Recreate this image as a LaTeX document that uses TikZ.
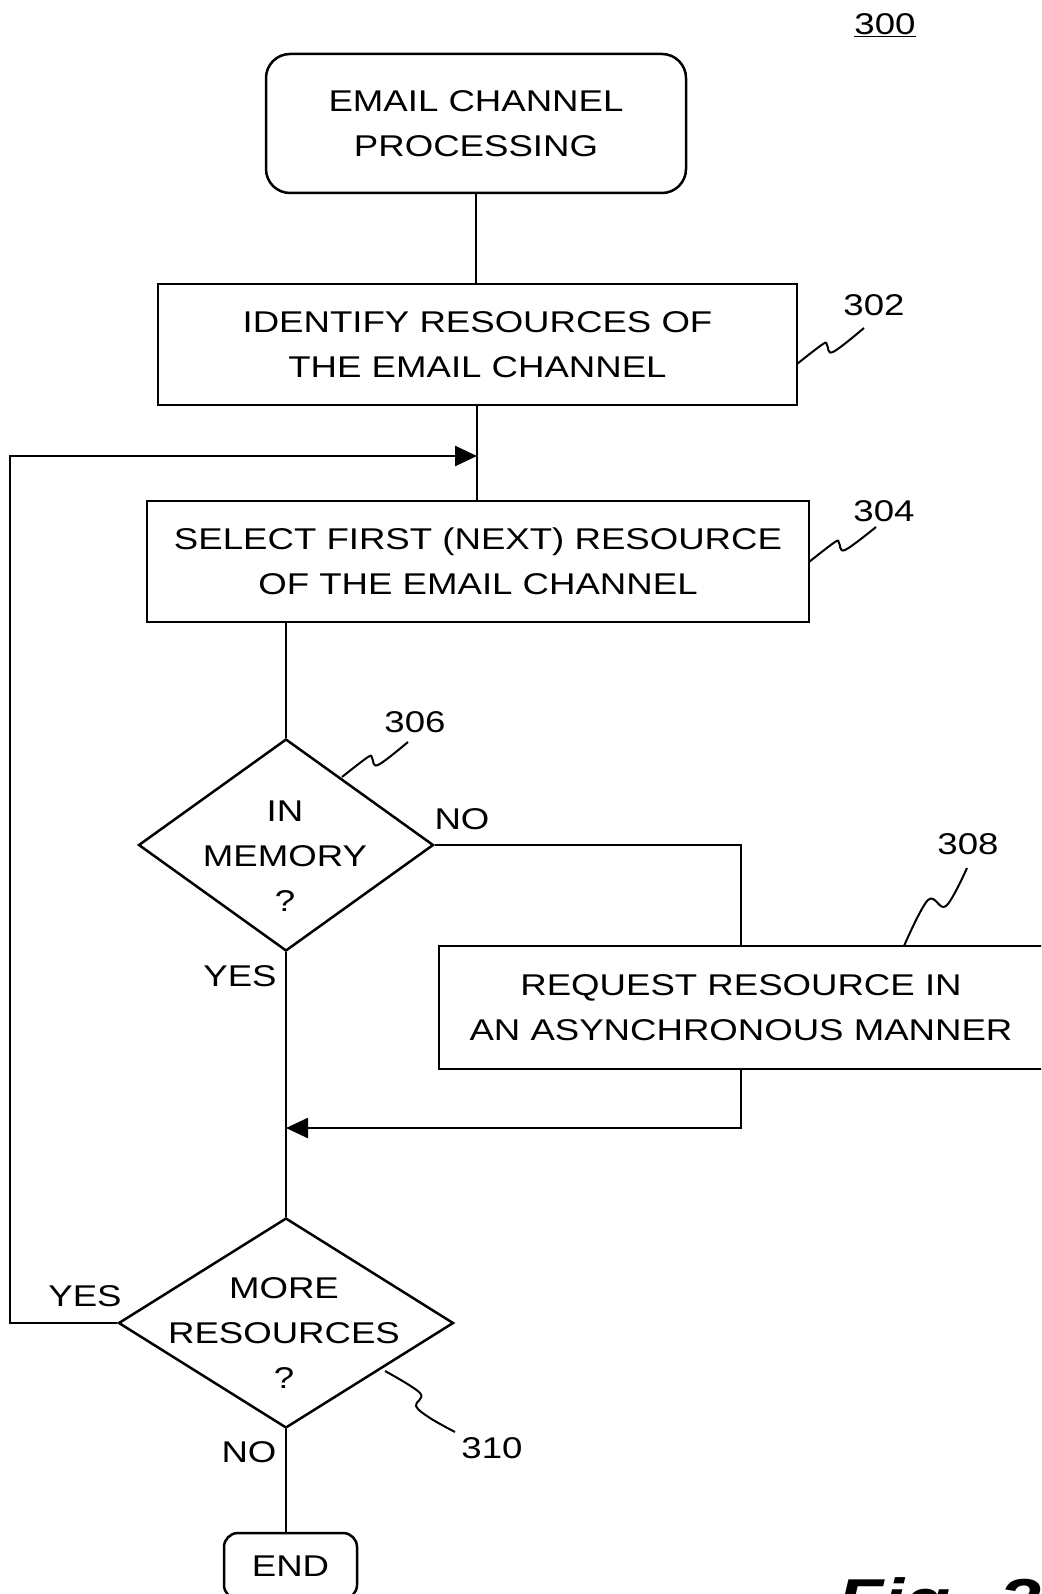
\documentclass[tikz,border=0pt]{standalone}
\usepackage{fontspec}
\setmainfont[FakeStretch=1.22]{Liberation Sans}
\usetikzlibrary{arrows.meta,shapes.geometric}
\begin{document}
\begin{tikzpicture}[x=1pt,y=-1pt,line width=2.5pt,
  every node/.style={font=\fontsize{30}{45}\selectfont,inner sep=0pt},
  procbox/.style={draw,rectangle,align=center},
  termbox/.style={draw,rectangle,rounded corners=24pt,align=center},
  decbox/.style={draw,diamond},
  dectext/.style={align=center},
  lbl/.style={},
  arr/.style={-{Triangle[length=22pt,width=20pt]}},
  squig/.style={line width=2pt}]
\useasboundingbox (0,0) rectangle (1041,1594);
\clip (0,0) rectangle (1041,1594);

% title reference
\node[lbl] (n300) at (885,25) {\underline{300}};

% nodes
\node[termbox,minimum width=420pt,minimum height=139pt] (start) at (476,123.5) {EMAIL CHANNEL\\PROCESSING};
\node[procbox,minimum width=639pt,minimum height=121pt] (b302) at (477.5,344.5) {IDENTIFY RESOURCES OF\\THE EMAIL CHANNEL};
\node[procbox,minimum width=662pt,minimum height=121pt] (b304) at (478,561.5) {SELECT FIRST (NEXT) RESOURCE\\OF THE EMAIL CHANNEL};
\node[decbox,minimum width=295pt,minimum height=212pt] (d306) at (286,845) {};
\node[dectext] (t306) at (285,856) {IN\\MEMORY\\?};
\node[procbox,minimum width=604pt,minimum height=123pt] (b308) at (741,1007.5) {REQUEST RESOURCE IN\\AN ASYNCHRONOUS MANNER};
\node[decbox,minimum width=335pt,minimum height=210pt] (d310) at (286,1323) {};
\node[dectext] (t310) at (284,1333) {MORE\\RESOURCES\\?};
\node[termbox,rounded corners=14pt,minimum width=133pt,minimum height=66pt] (endn) at (290.5,1566) {END};

% reference numerals
\node[lbl] (n302) at (874,305) {302};
\node[lbl] (n304) at (884,511) {304};
\node[lbl] (n306) at (415,722) {306};
\node[lbl] (n308) at (968,844) {308};
\node[lbl] (n310) at (492,1448) {310};

% branch labels
\node[lbl] (no1) at (462,819) {NO};
\node[lbl] (yes1) at (240,976) {YES};
\node[lbl] (yes2) at (85,1296) {YES};
\node[lbl] (no2) at (249,1452) {NO};

% figure caption (cut off at bottom, as in the original)
\node[anchor=base west,font=\fontsize{62}{62}\selectfont\bfseries\itshape] (fig) at (836,1622) {Fig. 3};

% junction coordinates
\coordinate (j1) at (477,456);
\coordinate (j2) at (286,1128);
\coordinate (loopc) at (10,1323);

% connectors
\draw (start.south) -- (b302.north -| start.south);
\draw (b302.south -| j1) -- (b304.north -| j1);
\draw (d306.north |- b304.south) -- (d306.north);
\draw (d306.east) -| (b308.north);
\draw[arr] (b308.south) |- (j2);
\draw (d306.south) -- (d310.north);
\draw[arr] (d310.west) -- (loopc) |- (j1);
\draw (d310.south) -- (endn.north -| d310.south);

% leader squiggles
\draw[squig] plot[smooth,tension=0.6] coordinates {(797,364) (823,344) (827,345) (833,352) (864,328)};
\draw[squig] plot[smooth,tension=0.6] coordinates {(809,562) (835,542) (839,543) (845,550) (876,527)};
\draw[squig] plot[smooth,tension=0.6] coordinates {(342,777) (368,757) (372,758) (378,765) (408,742)};
\draw[squig] plot[smooth,tension=0.6] coordinates {(904,946) (928,900) (946,906) (967,868)};
\draw[squig] plot[smooth,tension=0.6] coordinates {(385,1371) (420,1393) (416,1406) (430,1418) (455,1432)};
\end{tikzpicture}
\end{document}
